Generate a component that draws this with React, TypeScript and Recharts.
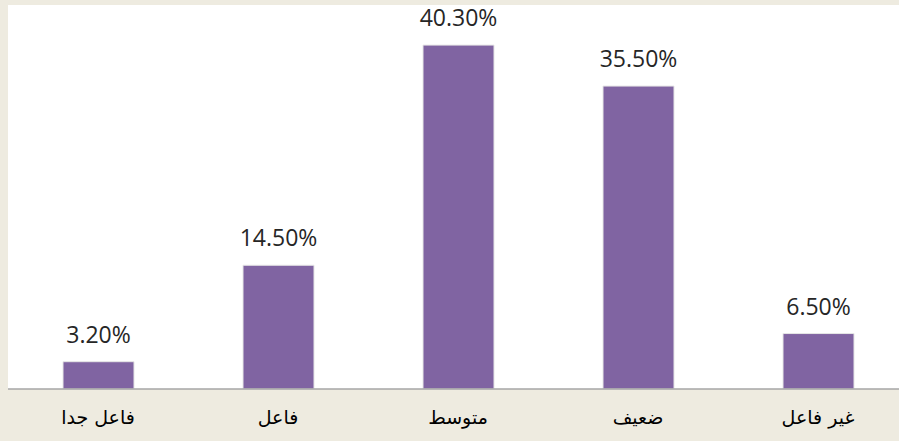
import { Bar, BarChart, CartesianGrid, LabelList, XAxis, YAxis } from "recharts"

const categories = ["فاعل جدا", "فاعل", "متوسط", "ضعيف", "غير فاعل"]
const percents = [3.2, 14.5, 40.3, 35.5, 6.5]

const data = categories.map((name, i) => ({ name, value: percents[i] }))

export default function App() {
  return (
    <div style={{ width: 899, height: 441, overflow: "hidden", background: "#EEEBE0", position: "relative" }}>
      <style>{"body{margin:0}"}</style>
      <BarChart width={910} height={441} data={data} margin={{ top: 5, right: 2, left: 8, bottom: 0 }} barSize={71}>
        <CartesianGrid horizontal={false} vertical={false} fill="#ffffff" stroke="none" />
        <XAxis
          dataKey="name"
          height={52}
          tickLine={false}
          axisLine={{ stroke: "#A6A6A6", strokeWidth: 1.5 }}
          tick={{ fill: "#000000", fontSize: 19, fontFamily: "DejaVu Sans", dy: 14 }}
        />
        <YAxis hide domain={[0, 45]} />
        <Bar dataKey="value" fill="#8064A2" stroke="#E6E6E6" strokeWidth={1} isAnimationActive={false}>
          <LabelList
            dataKey="value"
            position="top"
            offset={19}
            formatter={(v: number) => `${v.toFixed(2)}%`}
            style={{ fill: "#262626", fontSize: 23, fontFamily: "Open Sans" }}
          />
        </Bar>
      </BarChart>
    </div>
  )
}
